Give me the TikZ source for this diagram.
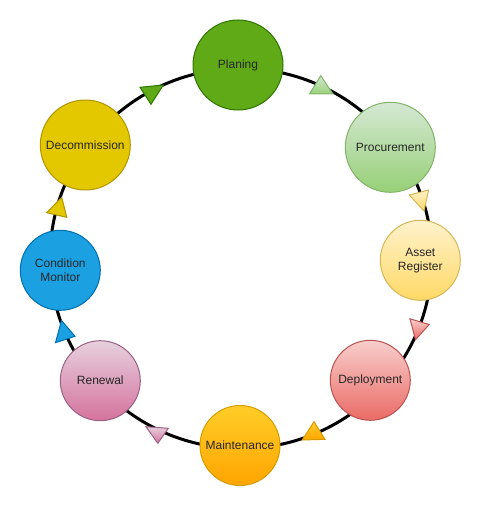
\documentclass[tikz,border=0pt]{standalone}
\usepackage{fontspec}
\setmainfont{Liberation Sans}
\definecolor{plF}{HTML}{60A917}\definecolor{plS}{HTML}{2D7600}
\definecolor{prT}{HTML}{D5E8D4}\definecolor{prB}{HTML}{97D077}\definecolor{prS}{HTML}{82B366}
\definecolor{arT}{HTML}{FFF2CC}\definecolor{arB}{HTML}{FFD966}\definecolor{arS}{HTML}{D6B656}
\definecolor{deT}{HTML}{F8CECC}\definecolor{deB}{HTML}{EA6B66}\definecolor{deS}{HTML}{B85450}
\definecolor{maT}{HTML}{FFCD28}\definecolor{maB}{HTML}{FFA500}\definecolor{maS}{HTML}{D79B00}
\definecolor{reT}{HTML}{E6D0DE}\definecolor{reB}{HTML}{D5739D}\definecolor{reS}{HTML}{996185}
\definecolor{cmF}{HTML}{1BA1E2}\definecolor{cmS}{HTML}{006EAF}
\definecolor{dcF}{HTML}{E3C800}\definecolor{dcS}{HTML}{B09500}
\begin{document}
\begin{tikzpicture}[x=0.75pt,y=-0.75pt,
  stage/.style={circle, inner sep=0pt, line width=0.75pt, align=center,
    font=\fontsize{9}{10.5}\selectfont, text=black!85},
  bigc/.style={minimum size=67.5pt},
  smallc/.style={minimum size=60pt},
  stPl/.style={fill=plF, draw=plS},
  stPr/.style={top color=prT, bottom color=prB, draw=prS},
  stAr/.style={top color=arT, bottom color=arB, draw=arS},
  stDe/.style={top color=deT, bottom color=deB, draw=deS},
  stMa/.style={top color=maT, bottom color=maB, draw=maS},
  stRe/.style={top color=reT, bottom color=reB, draw=reS},
  stCm/.style={fill=cmF, draw=cmS},
  stDc/.style={fill=dcF, draw=dcS},
  tri/.style={line width=0.75pt, line join=miter},
  cyc/.style={line width=2.25pt}
]
\useasboundingbox (0,0) rectangle (481,506);
% node centres
\coordinate (cPl) at (238,65);
\coordinate (cPr) at (390.3,147.3);
\coordinate (cAr) at (420.3,260.3);
\coordinate (cDe) at (370.3,380.3);
\coordinate (cMa) at (240,445.5);
\coordinate (cRe) at (100.3,380.7);
\coordinate (cCm) at (60.3,270.3);
\coordinate (cDc) at (85.3,145);
\coordinate (ring) at (241,258.5);

% the cycle line
\draw[cyc] (ring) ellipse [x radius=143.25pt, y radius=142.5pt];

% arrow triangles
\path[tri, stPr] (320.7,75.7) -- (309.5,94) -- (333,94) -- cycle;
\path[tri, stAr] (409.3,195) -- (428.6,190) -- (424,211) -- cycle;
\path[tri, stDe] (410,318.8) -- (429.2,324.5) -- (415.5,339.7) -- cycle;
\path[tri, stMa] (314,421.7) -- (302.2,440) -- (325,439.3) -- cycle;
\path[tri, stRe] (146,426.7) -- (168.3,428.3) -- (157.8,443.3) -- cycle;
\path[tri, stCm] (61.5,320.5) -- (55.5,342.7) -- (75,336.3) -- cycle;
\path[tri, stDc] (61.7,197.3) -- (46.7,212.7) -- (66.7,217.3) -- cycle;
\path[tri, stPl] (140,87.3) -- (163.3,85) -- (151,104.3) -- cycle;

\node[stage, bigc, stPl] (pl) at (cPl) {Planing};
\node[stage, bigc, stPr] (pr) at (cPr) {Procurement};
\node[stage, smallc, stAr] (ar) at (cAr) {Asset\\Register};
\node[stage, smallc, stDe] (de) at (cDe) {Deployment};
\node[stage, smallc, stMa] (ma) at (cMa) {Maintenance};
\node[stage, smallc, stRe] (re) at (cRe) {Renewal};
\node[stage, smallc, stCm] (cm) at (cCm) {Condition\\Monitor};
\node[stage, bigc, stDc] (dc) at (cDc) {Decommission};
\end{tikzpicture}
\end{document}
